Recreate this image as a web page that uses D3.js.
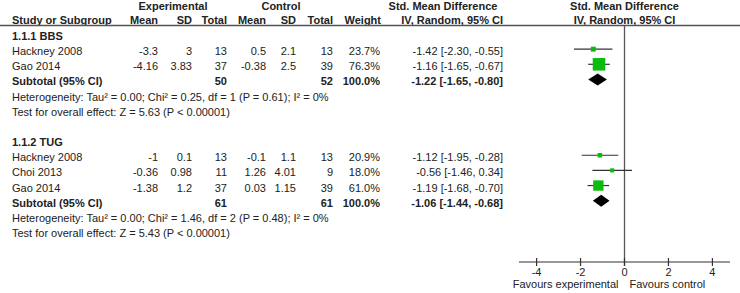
<!DOCTYPE html>
<html>
<head>
<meta charset="utf-8">
<script src="https://cdn.jsdelivr.net/npm/d3@7"></script>
<style>
  body { margin: 0; background: #fff; }
  svg text { font-family: "Liberation Sans", Arial, sans-serif; font-size: 11px; fill: #222; }
  svg text.b { font-weight: bold; }
</style>
</head>
<body>
<div id="chart"></div>
<script>
// data
const groups = ["1.1.1 BBS", "1.1.2 TUG"]
const studyGroup = [0, 0, 1, 1, 1]
const studyNames = ["Hackney 2008", "Gao 2014", "Hackney 2008", "Choi 2013", "Gao 2014"]
const expMean = [-3.3, -4.16, -1, -0.36, -1.38]
const expSD = [3, 3.83, 0.1, 0.98, 1.2]
const expTotal = [13, 37, 13, 11, 37]
const ctrlMean = [0.5, -0.38, -0.1, 1.26, 0.03]
const ctrlSD = [2.1, 2.5, 1.1, 4.01, 1.15]
const ctrlTotal = [13, 39, 13, 9, 39]
const weights = [23.7, 76.3, 20.9, 18.0, 61.0]
const smd = [-1.42, -1.16, -1.12, -0.56, -1.19]
const ciLow = [-2.30, -1.65, -1.95, -1.46, -1.68]
const ciHigh = [-0.55, -0.67, -0.28, 0.34, -0.70]

const subExpTotal = [50, 61]
const subCtrlTotal = [52, 61]
const subSmd = [-1.22, -1.06]
const subLow = [-1.65, -1.44]
const subHigh = [-0.80, -0.68]
const tau2 = [0.00, 0.00]
const chi2 = [0.25, 1.46]
const dfs = [1, 2]
const pHet = [0.61, 0.48]
const i2 = [0, 0]
const zVal = [5.63, 5.43]

const axisTicks = [-4, -2, 0, 2, 4]

//set svg
const width = 740,
      height = 293

const svg = d3.select("#chart")
  .append("svg")
    .attr("width", width)
    .attr("height", height)

// column anchors (right aligned except name)
const col = {
  name: 12, expMean: 158, expSD: 192, expTotal: 227,
  ctrlMean: 266, ctrlSD: 296, ctrlTotal: 333, weight: 380, effect: 503
}

const f2 = v => v.toFixed(2)
const effText = (m, l, h) => `${f2(m)} [${f2(l)}, ${f2(h)}]`

// build rows
const rows = []
groups.forEach((g, gi) => {
  rows.push({type: "head", label: g})
  studyNames.forEach((s, i) => {
    if (studyGroup[i] === gi) rows.push({type: "study", i: i})
  })
  rows.push({type: "sub", gi: gi})
  rows.push({type: "het", gi: gi})
  rows.push({type: "test", gi: gi})
  rows.push({type: "blank"})
})
rows.pop()

// scales
const y = d3.scaleLinear().domain([0, rows.length - 1]).range([36, 233])
const x = d3.scaleLinear().domain([-4.8, 4.8]).range([519, 730])
const size = d3.scaleLinear().domain([0, 100]).range([1.5, 16])

// header
const txt = (xx, yy, t, anchor, bold) => svg.append("text")
    .attr("x", xx).attr("y", yy)
    .attr("text-anchor", anchor || "end")
    .attr("class", bold ? "b" : null)
    .text(t)

txt(173, 9.5, "Experimental", "middle", true)
txt(281, 9.5, "Control", "middle", true)
txt(443, 9.5, "Std. Mean Difference", "middle", true)
txt(x(0), 9.5, "Std. Mean Difference", "middle", true)

txt(col.name, 23.5, "Study or Subgroup", "start", true)
txt(col.expMean, 23.5, "Mean", "end", true)
txt(col.expSD, 23.5, "SD", "end", true)
txt(col.expTotal, 23.5, "Total", "end", true)
txt(col.ctrlMean, 23.5, "Mean", "end", true)
txt(col.ctrlSD, 23.5, "SD", "end", true)
txt(col.ctrlTotal, 23.5, "Total", "end", true)
txt(col.weight + 1, 23.5, "Weight", "end", true)
txt(col.effect, 23.5, "IV, Random, 95% CI", "end", true)
txt(x(0), 23.5, "IV, Random, 95% CI", "middle", true)

svg.append("line")
    .attr("x1", 0).attr("x2", width)
    .attr("y1", 25.5).attr("y2", 25.5)
    .attr("stroke", "#555").attr("stroke-width", 1.5)

// zero line
svg.append("line")
    .attr("x1", x(0)).attr("x2", x(0))
    .attr("y1", 25.5).attr("y2", 266)
    .attr("stroke", "#555").attr("stroke-width", 1.3)

// table rows
rows.forEach((r, ri) => {
  const yy = y(ri) + 4
  const yc = y(ri) - 2
  if (r.type === "head") {
    txt(col.name, yy, r.label, "start", true)
  } else if (r.type === "study") {
    const i = r.i
    txt(col.name, yy, studyNames[i], "start")
    txt(col.expMean, yy, String(expMean[i]))
    txt(col.expSD, yy, String(expSD[i]))
    txt(col.expTotal, yy, String(expTotal[i]))
    txt(col.ctrlMean, yy, String(ctrlMean[i]))
    txt(col.ctrlSD, yy, String(ctrlSD[i]))
    txt(col.ctrlTotal, yy, String(ctrlTotal[i]))
    txt(col.weight, yy, weights[i].toFixed(1) + "%")
    txt(col.effect, yy, effText(smd[i], ciLow[i], ciHigh[i]))
    // CI line + square
    svg.append("line")
        .attr("x1", x(ciLow[i])).attr("x2", x(ciHigh[i]))
        .attr("y1", yc).attr("y2", yc)
        .attr("stroke", "#333").attr("stroke-width", 1.2)
    const s = size(weights[i])
    svg.append("rect")
        .attr("x", x(smd[i]) - s / 2).attr("y", yc - s / 2)
        .attr("width", s).attr("height", s)
        .attr("fill", "#0cbc0c")
  } else if (r.type === "sub") {
    const gi = r.gi
    txt(col.name, yy, "Subtotal (95% CI)", "start", true)
    txt(col.expTotal, yy, String(subExpTotal[gi]), "end", true)
    txt(col.ctrlTotal, yy, String(subCtrlTotal[gi]), "end", true)
    txt(col.weight, yy, "100.0%", "end", true)
    txt(col.effect, yy, effText(subSmd[gi], subLow[gi], subHigh[gi]), "end", true)
    const h = 6
    svg.append("path")
        .attr("d", `M${x(subLow[gi])},${yc} L${x(subSmd[gi])},${yc - h} L${x(subHigh[gi])},${yc} L${x(subSmd[gi])},${yc + h} Z`)
        .attr("fill", "#000")
  } else if (r.type === "het") {
    const gi = r.gi
    txt(col.name, yy, `Heterogeneity: Tau\u00b2 = ${tau2[gi].toFixed(2)}; Chi\u00b2 = ${chi2[gi].toFixed(2)}, df = ${dfs[gi]} (P = ${pHet[gi].toFixed(2)}); I\u00b2 = ${i2[gi]}%`, "start")
  } else if (r.type === "test") {
    const gi = r.gi
    txt(col.name, yy, `Test for overall effect: Z = ${zVal[gi].toFixed(2)} (P < 0.00001)`, "start")
  }
})

// axis
const axisY = 262
const ax = svg.append("g")
svg.append("line")
    .attr("x1", x.range()[0]).attr("x2", x.range()[1])
    .attr("y1", axisY).attr("y2", axisY)
    .attr("stroke", "#333").attr("stroke-width", 1.2)
ax.selectAll("line.tick")
  .data(axisTicks)
  .join("line")
    .attr("class", "tick")
    .attr("x1", d => x(d)).attr("x2", d => x(d))
    .attr("y1", axisY - 4).attr("y2", axisY + 4)
    .attr("stroke", "#333").attr("stroke-width", 1.2)
ax.selectAll("text")
  .data(axisTicks)
  .join("text")
    .attr("x", d => x(d))
    .attr("y", axisY + 14)
    .attr("text-anchor", "middle")
    .text(d => String(d))

txt(x(0) - 6, 288, "Favours experimental", "end")
txt(x(0) + 5, 288, "Favours control", "start")
</script>
</body>
</html>
